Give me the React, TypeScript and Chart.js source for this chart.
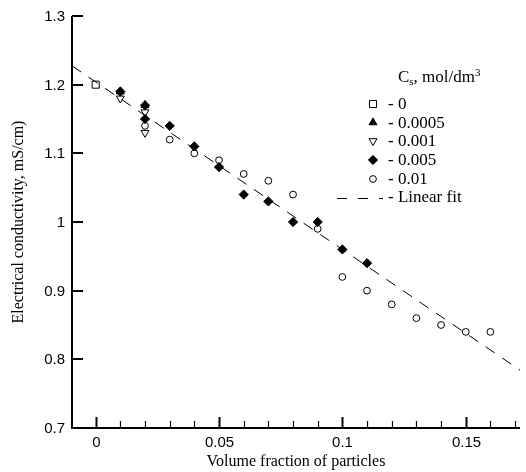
import React, { useEffect, useRef } from 'react';
import { Chart, registerables } from 'chart.js';
import { drawPoint } from 'chart.js/helpers';

Chart.register(...registerables);

// ---- data ----
const cs0X = [0];
const cs0Y = [1.2];
const cs0005X = [0.01, 0.02];
const cs0005Y = [1.19, 1.17];
const cs001X = [0.01, 0.02, 0.02];
const cs001Y = [1.18, 1.16, 1.13];
const cs005X = [0.01, 0.02, 0.02, 0.03, 0.04, 0.05, 0.06, 0.07, 0.08, 0.09, 0.1, 0.11];
const cs005Y = [1.19, 1.17, 1.15, 1.14, 1.11, 1.08, 1.04, 1.03, 1.0, 1.0, 0.96, 0.94];
const cs01X = [0.02, 0.03, 0.04, 0.05, 0.06, 0.07, 0.08, 0.09, 0.1, 0.11, 0.12, 0.13, 0.14, 0.15, 0.16];
const cs01Y = [1.14, 1.12, 1.1, 1.09, 1.07, 1.06, 1.04, 0.99, 0.92, 0.9, 0.88, 0.86, 0.85, 0.84, 0.84];
const fitX = [-0.0096, 0.18];
const fitY = [1.2274, 0.7648];

const legendLabels = ['- 0', '- 0.0005', '- 0.001', '- 0.005', '- 0.01'];
const fitLabel = '- Linear fit';

const xTickValues = [0, 0.01, 0.02, 0.03, 0.04, 0.05, 0.06, 0.07, 0.08, 0.09, 0.1, 0.11, 0.12, 0.13, 0.14, 0.15, 0.16, 0.17];
const xMajorValues = [0, 0.05, 0.1, 0.15];
const xMajorLabels = ['0', '0.05', '0.1', '0.15'];
const yTickValues = [0.7, 0.8, 0.9, 1.0, 1.1, 1.2, 1.3];
const yTickLabels = ['0.7', '0.8', '0.9', '1', '1.1', '1.2', '1.3'];

const xTitle = 'Volume fraction of particles';
const yTitle = 'Electrical conductivity, mS/cm)';

const toPts = (xs: number[], ys: number[]) => xs.map((x, i) => ({ x, y: ys[i] }));

const markerStyles = [
  { pointStyle: 'rect', radius: 5, rotation: 0, fill: 'rgba(0,0,0,0)' },
  { pointStyle: 'triangle', radius: 4.6, rotation: 0, fill: '#000' },
  { pointStyle: 'triangle', radius: 4.6, rotation: 180, fill: 'rgba(0,0,0,0)' },
  { pointStyle: 'rectRot', radius: 4.6, rotation: 0, fill: '#000' },
  { pointStyle: 'circle', radius: 3.4, rotation: 0, fill: 'rgba(0,0,0,0)' },
];

const isNear = (a: number, b: number) => Math.abs(a - b) < 1e-6;
const SANS = '15px "Liberation Sans", Arial, sans-serif';
const SERIF = '"Liberation Serif", "Times New Roman", serif';

const decorPlugin = {
  id: 'decor',
  afterDraw(chart: any) {
    const ctx = chart.ctx as CanvasRenderingContext2D;
    const { left, right, top, bottom } = chart.chartArea;
    const xs = chart.scales.x;
    const ys = chart.scales.y;
    ctx.save();
    ctx.strokeStyle = '#000';
    ctx.fillStyle = '#000';
    ctx.setLineDash([]);
    // axis lines
    ctx.lineWidth = 2;
    ctx.beginPath();
    ctx.moveTo(left, top);
    ctx.lineTo(left, bottom);
    ctx.lineTo(right, bottom);
    ctx.stroke();
    // y ticks (inward) + labels
    ctx.font = SANS;
    ctx.textAlign = 'right';
    ctx.textBaseline = 'middle';
    yTickValues.forEach((v, i) => {
      const py = Math.round(ys.getPixelForValue(v));
      ctx.lineWidth = 2;
      ctx.beginPath();
      ctx.moveTo(left, py);
      ctx.lineTo(left + 11, py);
      ctx.stroke();
      ctx.fillText(yTickLabels[i], 65, py + 1);
    });
    // x ticks (inward) + labels
    ctx.textAlign = 'center';
    xTickValues.forEach((v) => {
      const px = Math.round(xs.getPixelForValue(v)) + 0.5;
      const idx = xMajorValues.findIndex((m) => isNear(m, v));
      const major = idx >= 0;
      ctx.lineWidth = major ? 2 : 1.2;
      ctx.beginPath();
      ctx.moveTo(px, bottom);
      ctx.lineTo(px, bottom - (major ? 11 : 7));
      ctx.stroke();
      if (major) ctx.fillText(xMajorLabels[idx], px, 443);
    });
    // axis titles
    ctx.font = '16px ' + SERIF;
    ctx.textAlign = 'center';
    ctx.textBaseline = 'middle';
    ctx.fillText(xTitle, (left + right) / 2, 462);
    ctx.save();
    ctx.translate(19, (top + bottom) / 2);
    ctx.rotate(-Math.PI / 2);
    ctx.fillText(yTitle, 0, 0);
    ctx.restore();

    // legend title
    ctx.textAlign = 'left';
    ctx.textBaseline = 'alphabetic';
    let tx = 398;
    const base = 82;
    ctx.font = '17px ' + SERIF;
    ctx.fillText('C', tx, base);
    tx += ctx.measureText('C').width;
    ctx.font = '11px ' + SERIF;
    ctx.fillText('s', tx, base + 3);
    tx += ctx.measureText('s').width;
    ctx.font = '17px ' + SERIF;
    ctx.fillText(', mol/dm', tx, base);
    tx += ctx.measureText(', mol/dm').width;
    ctx.font = '11px ' + SERIF;
    ctx.fillText('3', tx, base - 6);

    // legend rows
    const rowY = [104, 122.5, 141, 160, 179];
    ctx.font = '17px ' + SERIF;
    ctx.textBaseline = 'middle';
    legendLabels.forEach((lab, i) => {
      const ms = markerStyles[i];
      ctx.fillStyle = ms.fill;
      ctx.strokeStyle = '#000';
      ctx.lineWidth = 1;
      drawPoint(ctx, { pointStyle: ms.pointStyle as any, radius: ms.radius, rotation: ms.rotation, borderWidth: 1 }, 373, rowY[i]);
      ctx.fillStyle = '#000';
      ctx.fillText(lab, 388, rowY[i] + 1);
    });
    // fit row
    ctx.lineWidth = 1;
    ctx.setLineDash([10, 11]);
    ctx.beginPath();
    ctx.moveTo(337, 198.5);
    ctx.lineTo(383, 198.5);
    ctx.stroke();
    ctx.setLineDash([]);
    ctx.fillText(fitLabel, 388, 198);
    ctx.restore();
  },
};

export default function App() {
  const ref = useRef<HTMLCanvasElement | null>(null);
  useEffect(() => {
    if (!ref.current) return;
    const mk = (xs: number[], ys: number[], i: number) => ({
      label: legendLabels[i],
      data: toPts(xs, ys),
      pointStyle: markerStyles[i].pointStyle,
      pointRadius: markerStyles[i].radius,
      pointRotation: markerStyles[i].rotation,
      pointBackgroundColor: markerStyles[i].fill,
      pointBorderColor: '#000',
      pointBorderWidth: 1,
      showLine: false,
    });
    const chart = new Chart(ref.current, {
      type: 'scatter',
      data: {
        datasets: [
          {
            label: fitLabel,
            data: toPts(fitX, fitY),
            showLine: true,
            borderColor: '#000',
            borderWidth: 1,
            borderDash: [11, 9],
            pointRadius: 0,
            fill: false,
          } as any,
          mk(cs0X, cs0Y, 0),
          mk(cs0005X, cs0005Y, 1),
          mk(cs001X, cs001Y, 2),
          mk(cs005X, cs005Y, 3),
          mk(cs01X, cs01Y, 4),
        ],
      },
      options: {
        animation: false,
        responsive: false,
        layout: { padding: { top: 16, right: 0, left: 0, bottom: 0 } },
        plugins: { legend: { display: false }, tooltip: { enabled: false } },
        scales: {
          x: {
            type: 'linear',
            min: -0.0096,
            max: 0.172,
            grid: { display: false },
            border: { display: false },
            afterBuildTicks: (s: any) => {
              s.ticks = xTickValues.map((v) => ({ value: v }));
            },
            afterFit: (s: any) => {
              s.height = 44;
            },
            ticks: { display: false, autoSkip: false, maxRotation: 0 },
          },
          y: {
            type: 'linear',
            min: 0.7,
            max: 1.3,
            grid: { display: false },
            border: { display: false },
            afterBuildTicks: (s: any) => {
              s.ticks = yTickValues.map((v) => ({ value: v }));
            },
            afterFit: (s: any) => {
              s.width = 72;
            },
            ticks: { display: false, autoSkip: false },
          },
        },
      },
      plugins: [decorPlugin],
    });
    return () => chart.destroy();
  }, []);
  return (
    <div style={{ position: 'absolute', left: 0, top: 0, width: 526, height: 472, background: '#fff' }}>
      <canvas ref={ref} width={526} height={472} style={{ display: 'block' }} />
    </div>
  );
}
